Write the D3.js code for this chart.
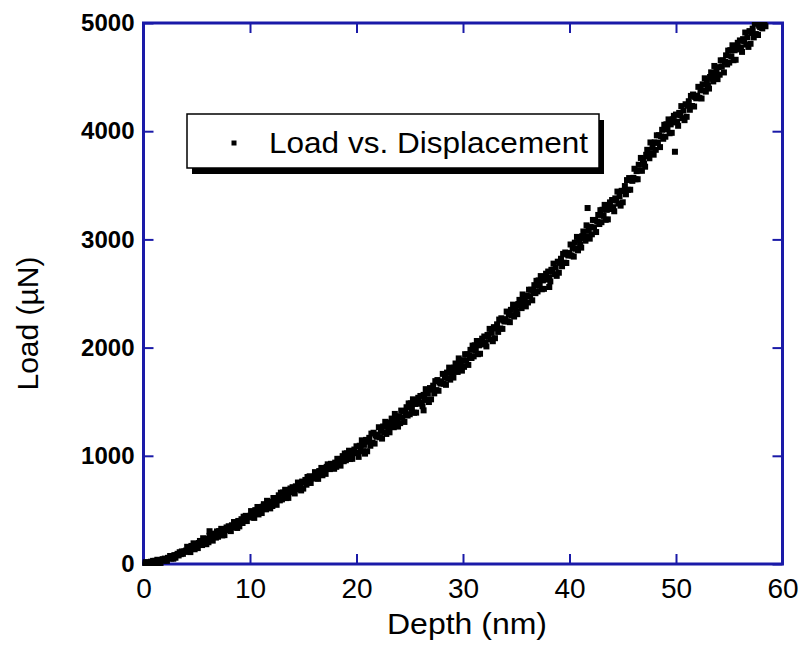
<!DOCTYPE html>
<html><head><meta charset="utf-8">
<script src="https://cdn.jsdelivr.net/npm/d3@7"></script>
<style>body{margin:0;background:#fff}svg{display:block}text{font-family:"Liberation Sans",Arial,Helvetica,sans-serif}</style>
</head><body><svg id="chart" width="804" height="649"></svg>
<script>
// Depth (nm) of each recorded point
const depth = [
0,0.1,0.2,0.3,0.4,0.5,0.6,0.7,0.8,0.9, 1,1.1,1.2,1.3,1.4,1.5,1.6,1.7,1.8,1.9,
2,2.1,2.2,2.3,2.4,2.5,2.6,2.7,2.8,2.9, 3,3.1,3.2,3.3,3.4,3.5,3.6,3.7,3.8,3.9,
4,4.1,4.2,4.3,4.4,4.5,4.6,4.7,4.8,4.9, 5,5.1,5.2,5.3,5.4,5.5,5.6,5.7,5.8,5.9,
6,6.1,6.2,6.3,6.4,6.5,6.6,6.7,6.8,6.9, 7,7.1,7.2,7.3,7.4,7.5,7.6,7.7,7.8,7.9,
8,8.1,8.2,8.3,8.4,8.5,8.6,8.7,8.8,8.9, 9,9.1,9.2,9.3,9.4,9.5,9.6,9.7,9.8,9.9,
10,10.1,10.2,10.3,10.4,10.5,10.6,10.7,10.8,10.9, 11,11.1,11.2,11.3,11.4,11.5,11.6,11.7,11.8,11.9,
12,12.1,12.2,12.3,12.4,12.5,12.6,12.7,12.8,12.9, 13,13.1,13.2,13.3,13.4,13.5,13.6,13.7,13.8,13.9,
14,14.1,14.2,14.3,14.4,14.5,14.6,14.7,14.8,14.9, 15,15.1,15.2,15.3,15.4,15.5,15.6,15.7,15.8,15.9,
16,16.1,16.2,16.3,16.4,16.5,16.6,16.7,16.8,16.9, 17,17.1,17.2,17.3,17.4,17.5,17.6,17.7,17.8,17.9,
18,18.1,18.2,18.3,18.4,18.5,18.6,18.7,18.8,18.9, 19,19.1,19.2,19.3,19.4,19.5,19.6,19.7,19.8,19.9,
20,20.1,20.2,20.3,20.4,20.5,20.6,20.7,20.8,20.9, 21,21.1,21.2,21.3,21.4,21.5,21.6,21.7,21.8,21.9,
22,22.1,22.2,22.3,22.4,22.5,22.6,22.7,22.8,22.9, 23,23.1,23.2,23.3,23.4,23.5,23.6,23.7,23.8,23.9,
24,24.1,24.2,24.3,24.4,24.5,24.6,24.7,24.8,24.9, 25,25.1,25.2,25.3,25.4,25.5,25.6,25.7,25.8,25.9,
26,26.1,26.2,26.3,26.4,26.5,26.6,26.7,26.8,26.9, 27,27.1,27.2,27.3,27.4,27.5,27.6,27.7,27.8,27.9,
28,28.1,28.2,28.3,28.4,28.5,28.6,28.7,28.8,28.9, 29,29.1,29.2,29.3,29.4,29.5,29.6,29.7,29.8,29.9,
30,30.1,30.2,30.3,30.4,30.5,30.6,30.7,30.8,30.9, 31,31.1,31.2,31.3,31.4,31.5,31.6,31.7,31.8,31.9,
32,32.1,32.2,32.3,32.4,32.5,32.6,32.7,32.8,32.9, 33,33.1,33.2,33.3,33.4,33.5,33.6,33.7,33.8,33.9,
34,34.1,34.2,34.3,34.4,34.5,34.6,34.7,34.8,34.9, 35,35.1,35.2,35.3,35.4,35.5,35.6,35.7,35.8,35.9,
36,36.1,36.2,36.3,36.4,36.5,36.6,36.7,36.8,36.9, 37,37.1,37.2,37.3,37.4,37.5,37.6,37.7,37.8,37.9,
38,38.1,38.2,38.3,38.4,38.5,38.6,38.7,38.8,38.9, 39,39.1,39.2,39.3,39.4,39.5,39.6,39.7,39.8,39.9,
40,40.1,40.2,40.3,40.4,40.5,40.6,40.7,40.8,40.9, 41,41.1,41.2,41.3,41.4,41.5,41.6,41.7,41.8,41.9,
42,42.1,42.2,42.3,42.4,42.5,42.6,42.7,42.8,42.9, 43,43.1,43.2,43.3,43.4,43.5,43.6,43.7,43.8,43.9,
44,44.1,44.2,44.3,44.4,44.5,44.6,44.7,44.8,44.9, 45,45.1,45.2,45.3,45.4,45.5,45.6,45.7,45.8,45.9,
46,46.1,46.2,46.3,46.4,46.5,46.6,46.7,46.8,46.9, 47,47.1,47.2,47.3,47.4,47.5,47.6,47.7,47.8,47.9,
48,48.1,48.2,48.3,48.4,48.5,48.6,48.7,48.8,48.9, 49,49.1,49.2,49.3,49.4,49.5,49.6,49.7,49.8,49.9,
50,50.1,50.2,50.3,50.4,50.5,50.6,50.7,50.8,50.9, 51,51.1,51.2,51.3,51.4,51.5,51.6,51.7,51.8,51.9,
52,52.1,52.2,52.3,52.4,52.5,52.6,52.7,52.8,52.9, 53,53.1,53.2,53.3,53.4,53.5,53.6,53.7,53.8,53.9,
54,54.1,54.2,54.3,54.4,54.5,54.6,54.7,54.8,54.9, 55,55.1,55.2,55.3,55.4,55.5,55.6,55.7,55.8,55.9,
56,56.1,56.2,56.3,56.4,56.5,56.6,56.7,56.8,56.9, 57,57.1,57.2,57.3,57.4,57.5,57.6,57.7,57.8,57.9,
58,58.1,58.2,58.3,58.4,
6.2,41.7,38.1,26.3,49.9
];
// Load (µN) of each recorded point
const load = [
6,-11,17,1,15,-11,9,21,2,29, 3,29,16,39,8,29,10,37,45,31,
50,37,29,57,54,74,50,67,49,82, 58,83,94,79,109,91,116,94,115,115,
124,159,114,145,110,167,142,191,136,179, 160,147,194,213,186,175,238,203,216,183,
232,201,260,229,260,216,254,281,244,301, 252,304,279,325,264,306,267,323,338,312,
349,321,304,358,350,388,339,371,333,398, 348,394,414,379,437,397,445,397,436,432,
445,489,432,471,426,498,466,527,458,512, 487,471,530,553,519,505,584,527,556,514,
575,536,610,570,609,547,601,635,588,659, 597,661,629,686,609,660,611,680,698,664,
710,673,652,718,707,753,691,730,680,762, 697,754,777,733,804,752,811,749,798,791,
805,849,792,832,787,859,827,888,820,874, 849,833,898,921,891,877,926,889,918,880,
937,898,972,932,971,909,963,997,950,1021, 959,1023,991,1047,970,1021,972,1041,1058,1024,
1088,1027,990,1093,1072,1143,1042,1101,1020,1147, 1042,1130,1166,1093,1205,1121,1213,1113,1188,1176,
1196,1264,1171,1231,1159,1271,1218,1314,1202,1285, 1245,1217,1308,1344,1288,1264,1387,1295,1339,1270,
1366,1302,1418,1353,1413,1313,1397,1449,1372,1484, 1384,1485,1433,1522,1398,1479,1399,1508,1536,1481,
1553,1494,1458,1563,1543,1616,1516,1577,1497,1626, 1522,1611,1648,1577,1690,1607,1700,1601,1678,1667,
1688,1757,1666,1727,1656,1769,1718,1815,1704,1789, 1750,1723,1816,1853,1798,1775,1900,1809,1854,1787,
1884,1822,1939,1877,1938,1840,1925,1979,1904,2018, 1919,2021,1971,2061,1939,2021,1943,2053,2083,2029,
2103,2045,2011,2117,2099,2173,2075,2137,2059,2189, 2087,2177,2215,2145,2259,2177,2271,2173,2251,2241,
2263,2333,2243,2305,2235,2349,2299,2397,2287,2373, 2335,2309,2403,2441,2387,2365,2491,2401,2447,2381,
2479,2417,2535,2473,2535,2437,2523,2577,2503,2617, 2519,2621,2571,2661,2539,2621,2543,2653,2683,2629,
2703,2646,2612,2719,2701,2776,2678,2741,2663,2794, 2692,2783,2821,2752,2866,2785,2879,2782,2860,2851,
2874,2953,2851,2921,2841,2970,2913,3023,2899,2996, 2952,2924,3030,3073,3012,2988,3130,3029,3081,3007,
3117,3047,3180,3109,3179,3068,3165,3226,3142,3270, 3159,3274,3217,3319,3181,3273,3185,3309,3342,3281,
3364,3298,3260,3379,3359,3442,3331,3401,3312,3449, 3343,3448,3493,3417,3548,3458,3567,3459,3550,3541,
3569,3653,3556,3631,3556,3690,3638,3753,3634,3736, 3697,3672,3782,3828,3771,3750,3896,3798,3854,3783,
3897,3828,3962,3892,3963,3853,3951,4013,3930,4059, 3949,4064,4017,4109,3981,4063,3985,4109,4142,4081,
4154,4088,4050,4169,4149,4232,4121,4191,4102,4249, 4133,4235,4277,4198,4326,4233,4339,4228,4316,4304,
4329,4410,4309,4381,4302,4433,4377,4489,4366,4465, 4422,4394,4501,4544,4484,4460,4603,4502,4555,4481,
4592,4522,4655,4596,4654,4543,4640,4701,4617,4745, 4634,4749,4692,4794,4656,4748,4660,4784,4817,4756,
4839,4772,4733,4851,4830,4912,4800,4869,4779,4925, 4808,4908,4948,4867,4993,4898,5002,4889,4975,4961,
4990,4950,4985,5010,4970,
303,3290,2560,1420,3810
];
const xTicks = [0, 10, 20, 30, 40, 50, 60];
const yTicks = [0, 1000, 2000, 3000, 4000, 5000];
const xTitle = "Depth (nm)";
const yTitle = "Load (µN)";
const legendLabel = "Load vs. Displacement";

const svg = d3.select("#chart");
const W = 804, H = 649;
const m = {l: 143.5, r: 782.5, t: 23, b: 564};
const x = d3.scaleLinear().domain([0, 60]).range([m.l, m.r]);
const y = d3.scaleLinear().domain([0, 5000]).range([m.b, m.t]);
const blue = "#1a1aa8";
const ms = 6;

svg.append("rect").attr("width", W).attr("height", H).attr("fill", "#fff");

function styleAxis(g, fs, fw) {
  g.select(".domain").remove();
  g.selectAll(".tick line").attr("stroke", blue).attr("stroke-width", 2);
  g.selectAll(".tick text").attr("fill", "#000").attr("font-size", fs).attr("font-weight", fw)
    .attr("font-family", "'Liberation Sans', Arial, sans-serif");
}

svg.append("g").attr("transform", `translate(0,${m.b})`)
  .call(d3.axisBottom(x).tickValues(xTicks).tickSize(-10).tickPadding(14).tickFormat(d3.format("d")))
  .call(g => styleAxis(g, 28, "normal"));
svg.append("g").attr("transform", `translate(${m.l},0)`)
  .call(d3.axisLeft(y).tickValues(yTicks).tickSize(-10).tickPadding(9).tickFormat(d3.format("d")))
  .call(g => styleAxis(g, 24, "bold"));
svg.append("g").attr("transform", `translate(0,${m.t})`)
  .call(d3.axisTop(x).tickValues(xTicks).tickSize(-10).tickFormat(() => ""))
  .call(g => styleAxis(g, 10, "normal"));
svg.append("g").attr("transform", `translate(${m.r},0)`)
  .call(d3.axisRight(y).tickValues(yTicks).tickSize(-10).tickFormat(() => ""))
  .call(g => styleAxis(g, 10, "normal"));

svg.append("rect").attr("x", m.l).attr("y", m.t).attr("width", m.r - m.l).attr("height", m.b - m.t)
  .attr("fill", "none").attr("stroke", blue).attr("stroke-width", 3);

svg.append("defs").append("clipPath").attr("id", "clip").append("rect")
  .attr("x", m.l - 1).attr("y", m.t - 1).attr("width", m.r - m.l + 2).attr("height", m.b - m.t + 3);

const pts = depth.map((d, i) => ({d, l: load[i]}));
svg.append("g").attr("clip-path", "url(#clip)").selectAll("rect").data(pts).join("rect")
  .attr("x", p => x(p.d) - ms / 2).attr("y", p => y(p.l) - ms / 2)
  .attr("width", ms).attr("height", ms).attr("fill", "#000");

// axis titles
svg.append("text").attr("x", (m.l + m.r) / 2 + 4).attr("y", 634).attr("text-anchor", "middle")
  .attr("font-size", 30).attr("textLength", 160).attr("lengthAdjust", "spacingAndGlyphs").text(xTitle);
svg.append("text").attr("transform", `translate(38,${(m.t + m.b) / 2 + 30}) rotate(-90)`)
  .attr("text-anchor", "middle").attr("font-size", 30).text(yTitle);

// legend
const lg = svg.append("g");
lg.append("rect").attr("x", 192).attr("y", 120).attr("width", 412).attr("height", 54).attr("fill", "#000");
lg.append("rect").attr("x", 187).attr("y", 114).attr("width", 412).attr("height", 54)
  .attr("fill", "#fff").attr("stroke", "#000").attr("stroke-width", 1.5);
lg.append("rect").attr("x", 231.5).attr("y", 140.5).attr("width", 5).attr("height", 5).attr("fill", "#000");
lg.append("text").attr("x", 269).attr("y", 153).attr("font-size", 30)
  .attr("textLength", 319).attr("lengthAdjust", "spacingAndGlyphs").text(legendLabel);
</script>
</body></html>
